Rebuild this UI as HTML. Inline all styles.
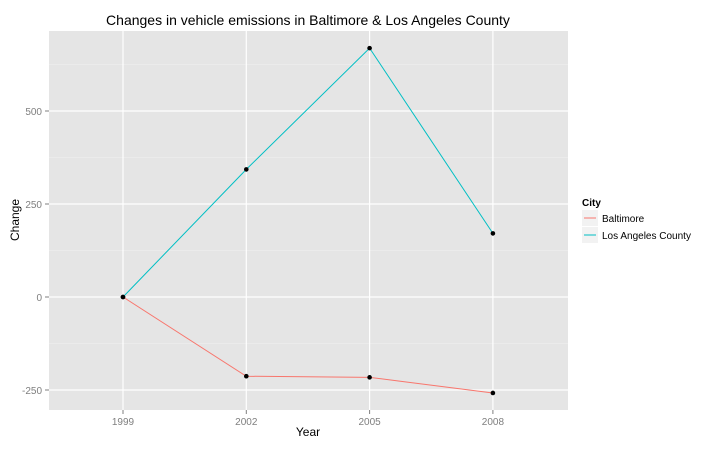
<!DOCTYPE html>
<html><head><meta charset="utf-8"><style>
body{margin:0;background:#fff;font-family:"Liberation Sans",sans-serif}
</style></head><body>
<svg id="c" width="716" height="447" xmlns="http://www.w3.org/2000/svg" font-family="Liberation Sans, sans-serif"></svg>
<script>
const years=[1999,2002,2005,2008];
const baltimore=[0,-213,-216,-258];
const losAngeles=[0,343,669,171];
const yTicks=[-250,0,250,500];
const yMinor=[-125,125,375,625];
const svg=document.getElementById('c');
const NS='http://www.w3.org/2000/svg';
const L=49,R=568,T=31,B=410;
function x(v){return 123+(v-1999)/3*123.3;}
function y(v){return 297-v/250*93;}
function mk(tag,attrs,parent){const e=document.createElementNS(NS,tag);for(const k in attrs)e.setAttribute(k,attrs[k]);(parent||svg).appendChild(e);return e;}
let p=mk('rect',{x:L,y:T,width:R-L,height:B-T,fill:'#e5e5e5'});


yMinor.forEach(v=>{let g=mk('line',{x1:L,x2:R,y1:y(v),y2:y(v),stroke:'#f2f2f2','stroke-width':0.6});

});
yTicks.forEach(v=>{let g=mk('line',{x1:L,x2:R,y1:y(v),y2:y(v),stroke:'#fff','stroke-width':1.2});


let tk=mk('line',{x1:L-4,x2:L,y1:y(v),y2:y(v),stroke:'#7f7f7f'});


let t=mk('text',{x:L-7,y:y(v)+4,'text-anchor':'end','font-size':10,fill:'#7f7f7f'});t.textContent=v;

});
years.forEach(v=>{let g=mk('line',{x1:x(v),x2:x(v),y1:T,y2:B,stroke:'#fff','stroke-width':1.2});


let tk=mk('line',{x1:x(v),x2:x(v),y1:B,y2:B+4,stroke:'#7f7f7f'});


let t=mk('text',{x:x(v),y:B+15,'text-anchor':'middle','font-size':10,fill:'#7f7f7f'});t.textContent=v;

});
function series(vals,col,name){
 let l=mk('polyline',{points:vals.map((v,i)=>x(years[i])+','+y(v)).join(' '),fill:'none',stroke:col,'stroke-width':1});
 
 
 vals.forEach((v,i)=>{let c=mk('circle',{cx:x(years[i]),cy:y(v),r:2.3,fill:'#000'});
 
 });
}
series(baltimore,'#f8766d','baltimore');
series(losAngeles,'#00bfc4','los-angeles');
let ti=mk('text',{x:308,y:25,'text-anchor':'middle','font-size':14});ti.textContent='Changes in vehicle emissions in Baltimore & Los Angeles County';


let xt=mk('text',{x:308,y:436,'text-anchor':'middle','font-size':12});xt.textContent='Year';


let yt=mk('text',{x:19,y:220,'text-anchor':'middle','font-size':12,transform:'rotate(-90 19 220)'});yt.textContent='Change';


let lt=mk('text',{x:582,y:206,'font-size':10,'font-weight':'bold'});lt.textContent='City';


[['Baltimore','#f8766d'],['Los Angeles County','#00bfc4']].forEach((d,i)=>{
 const yy=210+i*17;
 let k=mk('rect',{x:582,y:yy,width:16,height:16,fill:'#f2f2f2'});
 
 
 let ln=mk('line',{x1:584,x2:596,y1:yy+8,y2:yy+8,stroke:d[1]});
 
 
 let t=mk('text',{x:602,y:yy+12,'font-size':10});t.textContent=d[0];
 
 
});
</script>
</body></html>
